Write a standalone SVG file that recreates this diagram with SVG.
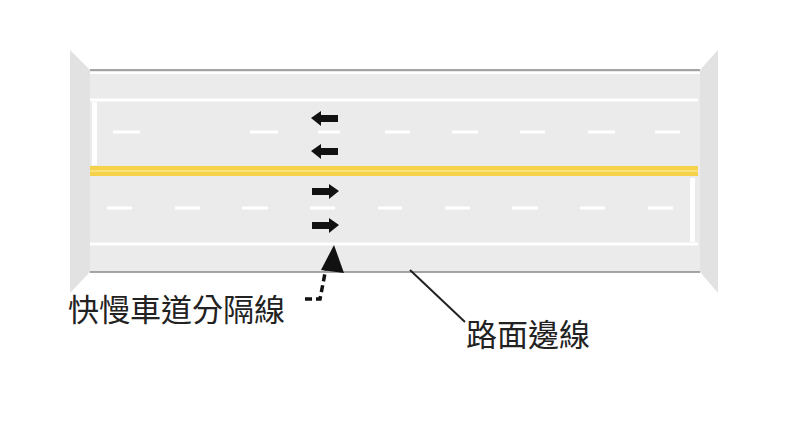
<svg xmlns="http://www.w3.org/2000/svg" width="800" height="445" viewBox="0 0 800 445">
<style>
.d{stroke:#fff;stroke-width:3}
.lbl{font-family:"Liberation Sans","Noto Sans CJK TC",sans-serif;font-size:31px;fill:#222}
</style>
<rect width="800" height="445" fill="#fff"/>
<g id="road">
<polygon points="70,50 90,70 90,272 70,293" fill="#e2e2e2"/>
<polygon points="718,50 700,70 700,272 718,293" fill="#e2e2e2"/>
<rect x="90" y="70" width="610" height="202" fill="#ebebeb"/>
<line x1="90" y1="70" x2="700" y2="70" stroke="#888" stroke-width="1.5"/>
<line x1="90" y1="272" x2="700" y2="272" stroke="#888" stroke-width="1.5"/>
<line x1="90" y1="73" x2="700" y2="73" stroke="#fff" stroke-width="2"/>
<line x1="90" y1="100" x2="698" y2="100" stroke="#fff" stroke-width="3"/>
<line x1="90" y1="244" x2="698" y2="244" stroke="#fff" stroke-width="3"/>
<rect x="92" y="102" width="5" height="63" fill="#fff"/>
<rect x="690" y="178" width="5" height="64" fill="#fff"/>
<rect x="90" y="166" width="608" height="10" fill="#f5d24a"/>
<line x1="90" y1="171" x2="698" y2="171" stroke="#f9e27a" stroke-width="2"/>
<g class="d">
<line x1="113" y1="132" x2="140" y2="132"/><line x1="250" y1="132" x2="278" y2="132"/><line x1="318" y1="132" x2="340" y2="132"/><line x1="385" y1="132" x2="410" y2="132"/><line x1="452" y1="132" x2="478" y2="132"/><line x1="520" y1="132" x2="545" y2="132"/><line x1="588" y1="132" x2="615" y2="132"/><line x1="655" y1="132" x2="680" y2="132"/>
<line x1="107" y1="208" x2="132" y2="208"/><line x1="175" y1="208" x2="200" y2="208"/><line x1="242" y1="208" x2="268" y2="208"/><line x1="310" y1="208" x2="335" y2="208"/><line x1="378" y1="208" x2="402" y2="208"/><line x1="445" y1="208" x2="470" y2="208"/><line x1="512" y1="208" x2="538" y2="208"/><line x1="580" y1="208" x2="605" y2="208"/><line x1="648" y1="208" x2="673" y2="208"/>
</g>
<g fill="#111">
<path d="M311,118 L321,111 L321,115 L338,115 L338,122 L321,122 L321,126 Z"/>
<path d="M311,151 L321,144 L321,148 L338,148 L338,155 L321,155 L321,159 Z"/>
<path d="M339,191 L329,184 L329,188 L312,188 L312,195 L329,195 L329,199 Z"/>
<path d="M339,225 L329,218 L329,222 L312,222 L312,229 L329,229 L329,233 Z"/>
</g>
</g>
<g id="connectors">
<path d="M305,299 L320,299 L326,268" fill="none" stroke="#111" stroke-width="3.5" stroke-dasharray="7,4"/>
<polygon points="334,245 321,270 344,273" fill="#111"/>
<line x1="410" y1="270" x2="465" y2="322" stroke="#222" stroke-width="2"/>
</g>
<g id="label1"><text class="lbl" x="68" y="321">快慢車道分隔線</text></g>
<g id="label2"><text class="lbl" x="466" y="346">路面邊線</text></g>
</svg>
